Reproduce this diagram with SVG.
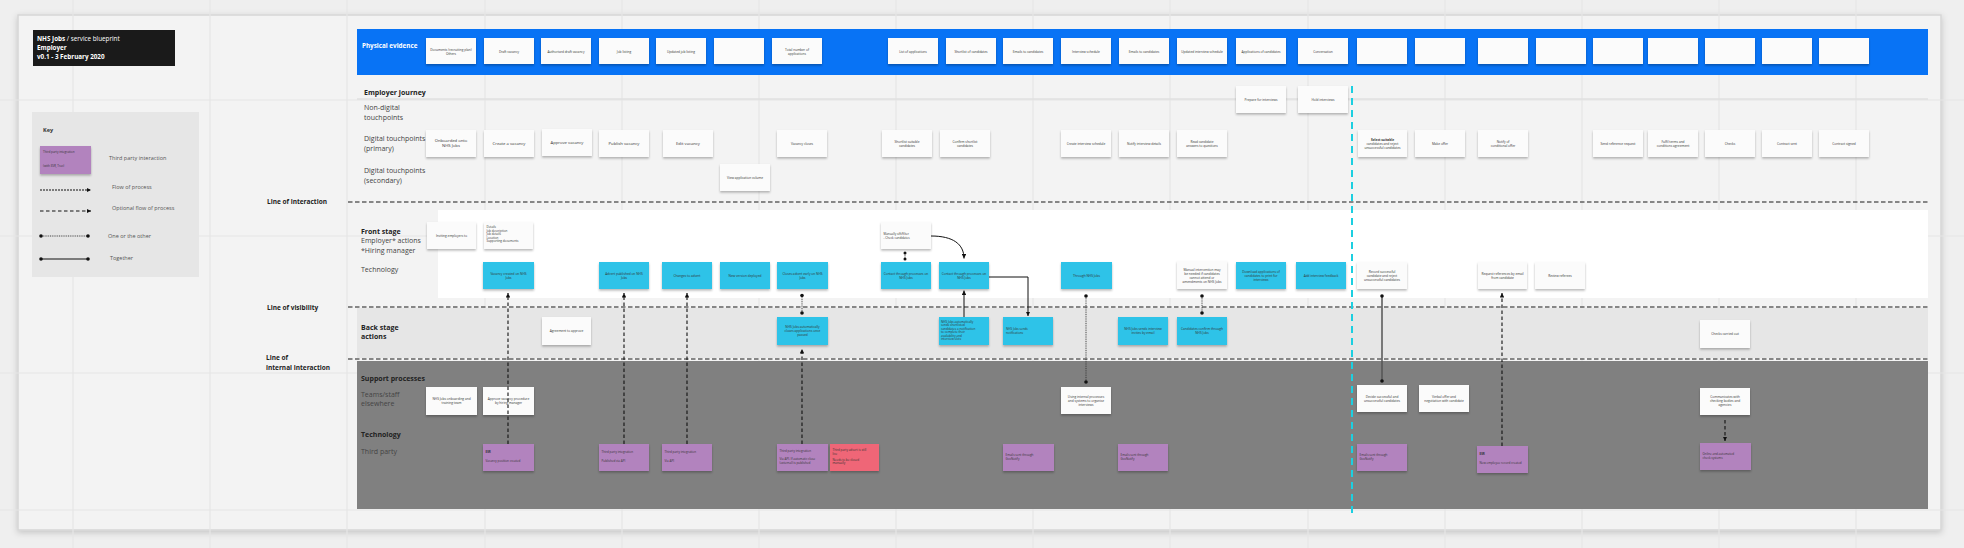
<svg xmlns="http://www.w3.org/2000/svg" width="1964" height="548" viewBox="0 0 1964 548">
<defs>
<filter id="sh" x="-10%" y="-10%" width="120%" height="140%"><feDropShadow dx="0" dy="1.6" stdDeviation="1" flood-color="#000" flood-opacity="0.28"/></filter>
<filter id="bsh" x="-2%" y="-2%" width="104%" height="106%"><feDropShadow dx="0" dy="2" stdDeviation="3" flood-color="#000" flood-opacity="0.18"/></filter>
<marker id="ah" viewBox="0 0 6 6" refX="6" refY="3" markerWidth="4.5" markerHeight="4.5" orient="auto" markerUnits="userSpaceOnUse"><path d="M0,0 L6,3 L0,6 z" fill="#111"/></marker>
</defs>
<style>
text{font-family:"Open Sans","Liberation Sans",sans-serif}
.w{fill:#fbfbfb;filter:url(#sh)}
.c{fill:#2dc3e8;filter:url(#sh)}
.p{fill:#b283be;filter:url(#sh)}
.r{fill:#ef6677;filter:url(#sh)}
.t{font-size:3.2px;fill:#333;text-anchor:middle}
.tb{font-size:4.2px;fill:#333;text-anchor:middle}
.tl{font-size:3px;fill:#333}
.lab{font-size:7px;fill:#444}
.labb{font-size:7px;fill:#222;font-weight:bold}
.line{font-size:6.5px;fill:#222;font-weight:bold}
.key{font-size:5.5px;fill:#555}
.grid{stroke:#e6e6e6;stroke-width:1.2}
.hl{stroke:#1a1a1a;stroke-width:1.2;stroke-dasharray:4.5 2.5;fill:none}
.dash{stroke:#111;stroke-width:1.1;stroke-dasharray:3.5 2.5;fill:none}
.dot{stroke:#333;stroke-width:0.9;stroke-dasharray:1 0.8;fill:none}
.sol{stroke:#111;stroke-width:1;fill:none}
</style>
<rect width="1964" height="548" fill="#efefef"/>
<rect x="18" y="15" width="1923" height="515" fill="#f3f3f3" stroke="#d6d6d6" stroke-width="1.5" filter="url(#bsh)"/>
<g id="grid">
<line class="grid" x1="73" y1="0" x2="73" y2="548"/><line class="grid" x1="210" y1="0" x2="210" y2="548"/><line class="grid" x1="347" y1="0" x2="347" y2="548"/><line class="grid" x1="485" y1="0" x2="485" y2="548"/><line class="grid" x1="622" y1="0" x2="622" y2="548"/><line class="grid" x1="759" y1="0" x2="759" y2="548"/><line class="grid" x1="896" y1="0" x2="896" y2="548"/><line class="grid" x1="1033" y1="0" x2="1033" y2="548"/><line class="grid" x1="1170" y1="0" x2="1170" y2="548"/><line class="grid" x1="1308" y1="0" x2="1308" y2="548"/><line class="grid" x1="1445" y1="0" x2="1445" y2="548"/><line class="grid" x1="1582" y1="0" x2="1582" y2="548"/><line class="grid" x1="1719" y1="0" x2="1719" y2="548"/><line class="grid" x1="1856" y1="0" x2="1856" y2="548"/>
<line class="grid" x1="0" y1="100" x2="1964" y2="100"/><line class="grid" x1="0" y1="236" x2="1964" y2="236"/><line class="grid" x1="0" y1="373" x2="1964" y2="373"/><line class="grid" x1="0" y1="510" x2="1964" y2="510"/>
</g>
<g id="title">
<rect x="33" y="30" width="142" height="36" fill="#1a1a1a"/>
<text x="37" y="40.5" font-size="6.3" fill="#fff"><tspan font-weight="bold">NHS Jobs</tspan> / service blueprint</text>
<text x="37" y="49.5" font-size="6.3" fill="#fff" font-weight="bold">Employer</text>
<text x="37" y="58.5" font-size="6.3" fill="#fff" font-weight="bold">v0.1 - 3 February 2020</text>
</g>
<g id="key">
<rect x="32" y="112" width="167" height="165" fill="#e6e6e6"/>
<text x="43" y="132" font-size="5.5" font-weight="bold" fill="#333">Key</text>
<rect class="p" x="40" y="146" width="51" height="28"/>
<text class="tl" x="43" y="153" font-size="2.6">Third party integration</text>
<text class="tl" x="43" y="167" font-size="2.6">(with ESR, Trac)</text>
<text class="key" x="109" y="160">Third party interaction</text>
<line x1="40" y1="190" x2="91" y2="190" stroke="#111" stroke-width="1" stroke-dasharray="2 1" marker-end="url(#ah)"/>
<text class="key" x="112" y="189">Flow of process</text>
<line x1="40" y1="211" x2="91" y2="211" stroke="#111" stroke-width="1" stroke-dasharray="3.5 2.5" marker-end="url(#ah)"/>
<text class="key" x="112" y="210">Optional flow of process</text>
<line x1="41" y1="236" x2="88" y2="236" class="dot"/><circle cx="41" cy="236" r="1.8" fill="#111"/><circle cx="88" cy="236" r="1.8" fill="#111"/>
<text class="key" x="108" y="238">One or the other</text>
<line x1="41" y1="259" x2="88" y2="259" stroke="#111" stroke-width="1"/><circle cx="41" cy="259" r="1.8" fill="#111"/><circle cx="88" cy="259" r="1.8" fill="#111"/>
<text class="key" x="110" y="260">Together</text>
</g>
<g id="lanes">
<rect x="357" y="29" width="1571" height="46" fill="#0873f5"/>
<line x1="357" y1="99" x2="1928" y2="99" stroke="#e0e0e0" stroke-width="1.5"/>
<rect x="438" y="210" width="1490" height="88" fill="#ffffff"/>
<rect x="357" y="308" width="1571" height="50" fill="#e6e6e6"/>
<rect x="357" y="361" width="1571" height="148" fill="#808080"/>
<line class="hl" x1="348" y1="202" x2="1928" y2="202"/>
<line class="hl" x1="348" y1="307" x2="1928" y2="307"/>
<line class="hl" x1="348" y1="359" x2="1928" y2="359"/>
<line x1="1352" y1="86" x2="1352" y2="516" stroke="#1ccfe0" stroke-width="2" stroke-dasharray="7 5"/>
</g>
<g id="labels">
<text x="362" y="48" font-size="6.3" font-weight="bold" fill="#fff">Physical evidence</text>
<text class="labb" x="364" y="94.5">Employer journey</text>
<text class="lab" x="364" y="110">Non-digital</text><text class="lab" x="364" y="119.5">touchpoints</text>
<text class="lab" x="364" y="141">Digital touchpoints</text><text class="lab" x="364" y="150.5">(primary)</text>
<text class="lab" x="364" y="173">Digital touchpoints</text><text class="lab" x="364" y="182.5">(secondary)</text>
<text class="line" x="267" y="204">Line of interaction</text>
<text class="labb" x="361" y="233.5">Front stage</text>
<text class="lab" x="361" y="243">Employer* actions</text>
<text class="lab" x="361" y="252.5">*Hiring manager</text>
<text class="lab" x="361" y="271.5">Technology</text>
<text class="line" x="267" y="309.5">Line of visibility</text>
<text class="labb" x="361" y="329.5">Back stage</text><text class="labb" x="361" y="339">actions</text>
<text class="line" x="266" y="359.5">Line of</text><text class="line" x="266" y="369.5">internal interaction</text>
<text class="labb" x="361" y="380.5">Support processes</text>
<text class="lab" x="361" y="396.5">Teams/staff</text><text class="lab" x="361" y="406">elsewhere</text>
<text class="labb" x="361" y="436.5">Technology</text>
<text class="lab" x="361" y="453.5">Third party</text>
</g>
<g id="physical-evidence">
<g id="pe1"><rect class="w" x="426" y="38" width="50" height="26"/><text class="t" x="451" y="50.6">Documents (recruiting plan)</text><text class="t" x="451" y="54.6">Others</text></g>
<g id="pe2"><rect class="w" x="484" y="38" width="50" height="26"/><text class="t" x="509" y="52.6">Draft vacancy</text></g>
<g id="pe3"><rect class="w" x="541" y="38" width="50" height="26"/><text class="t" x="566" y="52.6">Authorised draft vacancy</text></g>
<g id="pe4"><rect class="w" x="599" y="38" width="50" height="26"/><text class="t" x="624" y="52.6">Job listing</text></g>
<g id="pe5"><rect class="w" x="656" y="38" width="50" height="26"/><text class="t" x="681" y="52.6">Updated job listing</text></g>
<g id="pe6"><rect class="w" x="714" y="38" width="50" height="26"/></g>
<g id="pe7"><rect class="w" x="772" y="38" width="50" height="26"/><text class="t" x="797" y="50.6">Total number of</text><text class="t" x="797" y="54.6">applications</text></g>
<g id="pe8"><rect class="w" x="888" y="38" width="50" height="26"/><text class="t" x="913" y="52.6">List of applications</text></g>
<g id="pe9"><rect class="w" x="946" y="38" width="50" height="26"/><text class="t" x="971" y="52.6">Shortlist of candidates</text></g>
<g id="pe10"><rect class="w" x="1003" y="38" width="50" height="26"/><text class="t" x="1028" y="52.6">Emails to candidates</text></g>
<g id="pe11"><rect class="w" x="1061" y="38" width="50" height="26"/><text class="t" x="1086" y="52.6">Interview schedule</text></g>
<g id="pe12"><rect class="w" x="1119" y="38" width="50" height="26"/><text class="t" x="1144" y="52.6">Emails to candidates</text></g>
<g id="pe13"><rect class="w" x="1177" y="38" width="50" height="26"/><text class="t" x="1202" y="52.6">Updated interview schedule</text></g>
<g id="pe14"><rect class="w" x="1236" y="38" width="50" height="26"/><text class="t" x="1261" y="52.6">Applications of candidates</text></g>
<g id="pe15"><rect class="w" x="1298" y="38" width="50" height="26"/><text class="t" x="1323" y="52.6">Conversation</text></g>
<g id="pe16"><rect class="w" x="1357" y="38" width="50" height="26"/></g>
<g id="pe17"><rect class="w" x="1415" y="38" width="50" height="26"/></g>
<g id="pe18"><rect class="w" x="1478" y="38" width="50" height="26"/></g>
<g id="pe19"><rect class="w" x="1536" y="38" width="50" height="26"/></g>
<g id="pe20"><rect class="w" x="1593" y="38" width="50" height="26"/></g>
<g id="pe21"><rect class="w" x="1648" y="38" width="50" height="26"/></g>
<g id="pe22"><rect class="w" x="1705" y="38" width="50" height="26"/></g>
<g id="pe23"><rect class="w" x="1762" y="38" width="50" height="26"/></g>
<g id="pe24"><rect class="w" x="1819" y="38" width="50" height="26"/></g>
</g>
<g id="journey">
<g id="nd1"><rect class="w" x="1236" y="86" width="50" height="27"/><text class="t" x="1261" y="100.6">Prepare for interviews</text></g>
<g id="nd2"><rect class="w" x="1298" y="86" width="50" height="27"/><text class="t" x="1323" y="100.6">Hold interviews</text></g>
<g id="d1"><rect class="w" x="426" y="130" width="50" height="27"/><text class="tb" x="451" y="142">Onboarded onto</text><text class="tb" x="451" y="147">NHS Jobs</text></g>
<g id="d2"><rect class="w" x="484" y="130" width="50" height="27"/><text class="tb" x="509" y="145">Create a vacancy</text></g>
<g id="d3"><rect class="w" x="542" y="129" width="50" height="27"/><text class="tb" x="567" y="144">Approve vacancy</text></g>
<g id="d4"><rect class="w" x="599" y="130" width="50" height="27"/><text class="tb" x="624" y="145">Publish vacancy</text></g>
<g id="d5"><rect class="w" x="663" y="130" width="50" height="27"/><text class="tb" x="688" y="145">Edit vacancy</text></g>
<g id="d6"><rect class="w" x="777" y="130" width="50" height="27"/><text class="t" x="802" y="144.6">Vacancy closes</text></g>
<g id="d7"><rect class="w" x="882" y="130" width="50" height="27"/><text class="t" x="907" y="142.6">Shortlist suitable</text><text class="t" x="907" y="146.6">candidates</text></g>
<g id="d8"><rect class="w" x="940" y="130" width="50" height="27"/><text class="t" x="965" y="142.6">Confirm shortlist</text><text class="t" x="965" y="146.6">candidates</text></g>
<g id="d9"><rect class="w" x="1061" y="130" width="50" height="27"/><text class="t" x="1086" y="144.6">Create interview schedule</text></g>
<g id="d10"><rect class="w" x="1119" y="130" width="50" height="27"/><text class="t" x="1144" y="144.6">Notify interview details</text></g>
<g id="d11"><rect class="w" x="1177" y="130" width="50" height="27"/><text class="t" x="1202" y="142.6">Read candidate</text><text class="t" x="1202" y="146.6">answers to questions</text></g>
<g id="d12"><rect class="w" x="1358" y="130" width="49" height="27"/><text class="t" x="1382.5" y="140.6" font-weight="bold">Select suitable</text><text class="t" x="1382.5" y="144.6">candidates and reject</text><text class="t" x="1382.5" y="148.6">unsuccessful candidates</text></g>
<g id="d13"><rect class="w" x="1415" y="130" width="50" height="27"/><text class="t" x="1440" y="144.6">Make offer</text></g>
<g id="d14"><rect class="w" x="1478" y="130" width="50" height="27"/><text class="t" x="1503" y="142.6">Notify of</text><text class="t" x="1503" y="146.6">conditional offer</text></g>
<g id="d15"><rect class="w" x="1593" y="130" width="50" height="27"/><text class="t" x="1618" y="144.6">Send reference request</text></g>
<g id="d16"><rect class="w" x="1648" y="130" width="50" height="27"/><text class="t" x="1673" y="142.6">Fulfil terms and</text><text class="t" x="1673" y="146.6">conditions agreement</text></g>
<g id="d17"><rect class="w" x="1705" y="130" width="50" height="27"/><text class="t" x="1730" y="144.6">Checks</text></g>
<g id="d18"><rect class="w" x="1762" y="130" width="50" height="27"/><text class="t" x="1787" y="144.6">Contract sent</text></g>
<g id="d19"><rect class="w" x="1819" y="130" width="50" height="27"/><text class="t" x="1844" y="144.6">Contract signed</text></g>
<g id="sec1"><rect class="w" x="720" y="164" width="50" height="27"/><text class="t" x="745" y="178.6">View application volume</text></g>
</g>
<g id="front-stage">
<g id="f1"><rect class="w" x="427" y="222" width="49" height="27"/><text class="t" x="451.5" y="236.6">Inviting employers to</text></g>
<g id="f2"><rect class="w" x="484" y="222" width="49" height="27"/><text class="tl" x="486.5" y="228">Details</text><text class="tl" x="486.5" y="231.6">Job description</text><text class="tl" x="486.5" y="235.2">Job details</text><text class="tl" x="486.5" y="238.8">Location</text><text class="tl" x="486.5" y="242.4">Supporting documents</text></g>
<g id="f3"><rect class="w" x="881" y="222" width="50" height="27"/><text class="tl" x="883.5" y="234.5">Manually sift/filter</text><text class="tl" x="883.5" y="238.5">- Check candidates</text></g>
<g id="c1"><rect class="c" x="483" y="262" width="51" height="27"/><text class="t" x="508.5" y="274.6">Vacancy created on NHS</text><text class="t" x="508.5" y="278.6">Jobs</text></g>
<g id="c2"><rect class="c" x="599" y="262" width="50" height="27"/><text class="t" x="624" y="274.6">Advert published on NHS</text><text class="t" x="624" y="278.6">Jobs</text></g>
<g id="c3"><rect class="c" x="662" y="262" width="50" height="27"/><text class="t" x="687" y="276.6">Changes to advert</text></g>
<g id="c4"><rect class="c" x="720" y="262" width="50" height="27"/><text class="t" x="745" y="276.6">New version deployed</text></g>
<g id="c5"><rect class="c" x="777" y="262" width="51" height="27"/><text class="t" x="802.5" y="274.6">Closes advert early on NHS</text><text class="t" x="802.5" y="278.6">Jobs</text></g>
<g id="c6"><rect class="c" x="881" y="262" width="50" height="27"/><text class="t" x="906" y="274.6">Contact through processes on</text><text class="t" x="906" y="278.6">NHS Jobs</text></g>
<g id="c7"><rect class="c" x="939" y="262" width="50" height="27"/><text class="t" x="964" y="274.6">Contact through processes on</text><text class="t" x="964" y="278.6">NHS Jobs</text></g>
<g id="c8"><rect class="c" x="1061" y="262" width="51" height="27"/><text class="t" x="1086.5" y="276.6">Through NHS Jobs</text></g>
<g id="f4"><rect class="w" x="1177" y="261" width="50" height="28"/><text class="t" x="1202" y="270.6">Manual intervention may</text><text class="t" x="1202" y="274.6">be needed if candidates</text><text class="t" x="1202" y="278.6">cannot attend or</text><text class="t" x="1202" y="282.6">amendments on NHS Jobs</text></g>
<g id="c9"><rect class="c" x="1236" y="262" width="50" height="27"/><text class="t" x="1261" y="272.6">Download applications of</text><text class="t" x="1261" y="276.6">candidates to print for</text><text class="t" x="1261" y="280.6">interviews</text></g>
<g id="c10"><rect class="c" x="1296" y="262" width="50" height="27"/><text class="t" x="1321" y="276.6">Add interview feedback</text></g>
<g id="f5"><rect class="w" x="1357" y="262" width="50" height="27"/><text class="t" x="1382" y="272.6">Record successful</text><text class="t" x="1382" y="276.6">candidate and reject</text><text class="t" x="1382" y="280.6">unsuccessful candidates</text></g>
<g id="f6"><rect class="w" x="1478" y="262" width="49" height="27"/><text class="t" x="1502.5" y="274.6">Request references by email</text><text class="t" x="1502.5" y="278.6">from candidate</text></g>
<g id="f7"><rect class="w" x="1535" y="262" width="50" height="27"/><text class="t" x="1560" y="276.6">Review referees</text></g>
</g>
<g id="back-stage">
<g id="b1"><rect class="w" x="542" y="317" width="49" height="28"/><text class="t" x="566.5" y="332">Agreement to approve</text></g>
<g id="b2"><rect class="c" x="777" y="317" width="51" height="28"/><text class="t" x="802.5" y="327.6">NHS Jobs automatically</text><text class="t" x="802.5" y="331.6">closes applications once</text><text class="t" x="802.5" y="335.6">passed</text></g>
<g id="b3"><rect class="c" x="939" y="317" width="50" height="28"/><text class="tl" x="941" y="322.5">NHS Jobs automatically</text><text class="tl" x="941" y="326">sends shortlisted</text><text class="tl" x="941" y="329.5">candidates a notification</text><text class="tl" x="941" y="333">to complete their</text><text class="tl" x="941" y="336.5">availability and</text><text class="tl" x="941" y="340">interview slots</text></g>
<g id="b4"><rect class="c" x="1003" y="317" width="50" height="28"/><text class="tl" x="1006" y="329.6">NHS Jobs sends</text><text class="tl" x="1006" y="333.6">notifications</text></g>
<g id="b5"><rect class="c" x="1118" y="317" width="50" height="28"/><text class="t" x="1143" y="329.6">NHS Jobs sends interview</text><text class="t" x="1143" y="333.6">invites by email</text></g>
<g id="b6"><rect class="c" x="1177" y="317" width="50" height="28"/><text class="t" x="1202" y="329.6">Candidates confirm through</text><text class="t" x="1202" y="333.6">NHS Jobs</text></g>
<g id="b7"><rect class="w" x="1700" y="320" width="50" height="28"/><text class="t" x="1725" y="335">Checks carried out</text></g>
</g>
<g id="support">
<g id="s1"><rect class="w" x="426" y="387" width="51" height="28"/><text class="t" x="451.5" y="399.6">NHS Jobs onboarding and</text><text class="t" x="451.5" y="403.6">training team</text></g>
<g id="s2"><rect class="w" x="483" y="387" width="51" height="28"/><text class="t" x="508.5" y="399.6">Approve vacancy procedure</text><text class="t" x="508.5" y="403.6">by hiring manager</text></g>
<g id="s3"><rect class="w" x="1061" y="387" width="50" height="27"/><text class="t" x="1086" y="397.6">Using internal processes</text><text class="t" x="1086" y="401.6">and systems to organise</text><text class="t" x="1086" y="405.6">interviews</text></g>
<g id="s4"><rect class="w" x="1357" y="385" width="50" height="27"/><text class="t" x="1382" y="397.6">Decide successful and</text><text class="t" x="1382" y="401.6">unsuccessful candidates</text></g>
<g id="s5"><rect class="w" x="1419" y="385" width="50" height="27"/><text class="t" x="1444" y="397.6">Verbal offer and</text><text class="t" x="1444" y="401.6">negotiation with candidate</text></g>
<g id="s6"><rect class="w" x="1700" y="388" width="50" height="27"/><text class="t" x="1725" y="397.6">Communicates with</text><text class="t" x="1725" y="401.6">checking bodies and</text><text class="t" x="1725" y="405.6">agencies</text></g>
<g id="p1"><rect class="p" x="483" y="444" width="51" height="27"/><text class="tl" x="485.5" y="453" font-weight="bold">ESR</text><text class="tl" x="485.5" y="462">Vacancy position created</text></g>
<g id="p2"><rect class="p" x="599" y="444" width="50" height="27"/><text class="tl" x="601.5" y="453">Third party integration</text><text class="tl" x="601.5" y="462">Published via API</text></g>
<g id="p3"><rect class="p" x="662" y="444" width="50" height="27"/><text class="tl" x="664.5" y="453">Third party integration</text><text class="tl" x="664.5" y="462">Via API</text></g>
<g id="p4"><rect class="p" x="777" y="444" width="51" height="27"/><text class="tl" x="779.5" y="452">Third party integration</text><text class="tl" x="779.5" y="460">Via API. If automatic close</text><text class="tl" x="779.5" y="463.6">(external) is published</text></g>
<g id="r1"><rect class="r" x="830" y="444" width="49" height="27"/><text class="tl" x="832.5" y="451">Third party advert is still</text><text class="tl" x="832.5" y="454.6">live</text><text class="tl" x="832.5" y="460.5">Needs to be closed</text><text class="tl" x="832.5" y="464.1">manually</text></g>
<g id="p5"><rect class="p" x="1003" y="444" width="51" height="27"/><text class="tl" x="1005.5" y="455.5">Emails sent through</text><text class="tl" x="1005.5" y="459.5">GovNotify</text></g>
<g id="p6"><rect class="p" x="1118" y="444" width="50" height="27"/><text class="tl" x="1120.5" y="455.5">Emails sent through</text><text class="tl" x="1120.5" y="459.5">GovNotify</text></g>
<g id="p7"><rect class="p" x="1357" y="444" width="50" height="27"/><text class="tl" x="1359.5" y="455.5">Emails sent through</text><text class="tl" x="1359.5" y="459.5">GovNotify</text></g>
<g id="p8"><rect class="p" x="1477" y="446" width="51" height="27"/><text class="tl" x="1479.5" y="455" font-weight="bold">ESR</text><text class="tl" x="1479.5" y="464">New employee record created</text></g>
<g id="p9"><rect class="p" x="1700" y="443" width="51" height="27"/><text class="tl" x="1702.5" y="454.5">Online and automated</text><text class="tl" x="1702.5" y="458.5">check systems</text></g>
</g>
<g id="connectors">
<path class="dash" d="M508,444 V293" marker-end="url(#ah)"/>
<path class="dash" d="M624,444 V293" marker-end="url(#ah)"/>
<path class="dash" d="M687,444 V293" marker-end="url(#ah)"/>
<path class="dash" d="M802,444 V349" marker-end="url(#ah)"/>
<path class="dot" d="M802,295.5 V313"/><circle cx="802" cy="295.5" r="1.8" fill="#111"/><circle cx="802" cy="313" r="1.8" fill="#111"/>
<path class="dot" d="M905,253 V259"/><circle cx="905" cy="253" r="1.5" fill="#111"/><circle cx="905" cy="259" r="1.5" fill="#111"/>
<path class="sol" d="M931,236 C953,236 964,244 964,258.5" marker-end="url(#ah)"/>
<path class="sol" d="M964,317 V290.5" marker-end="url(#ah)"/>
<path class="sol" d="M989,277 H1028 V316" marker-end="url(#ah)"/>
<path class="dot" d="M1086,296 V382"/><circle cx="1086" cy="296" r="1.8" fill="#111"/><circle cx="1086" cy="382" r="1.8" fill="#111"/>
<path class="dot" d="M1202,296 V313"/><circle cx="1202" cy="296" r="1.8" fill="#111"/><circle cx="1202" cy="313" r="1.8" fill="#111"/>
<path d="M1382,296 V381" stroke="#555" stroke-width="1.5" fill="none"/><circle cx="1382" cy="296" r="1.8" fill="#111"/><circle cx="1382" cy="381" r="1.8" fill="#111"/>
<path class="dash" d="M1502,446 V293" marker-end="url(#ah)"/>
<path class="dash" d="M1725,420 V441" marker-end="url(#ah)"/>
</g>
</svg>
